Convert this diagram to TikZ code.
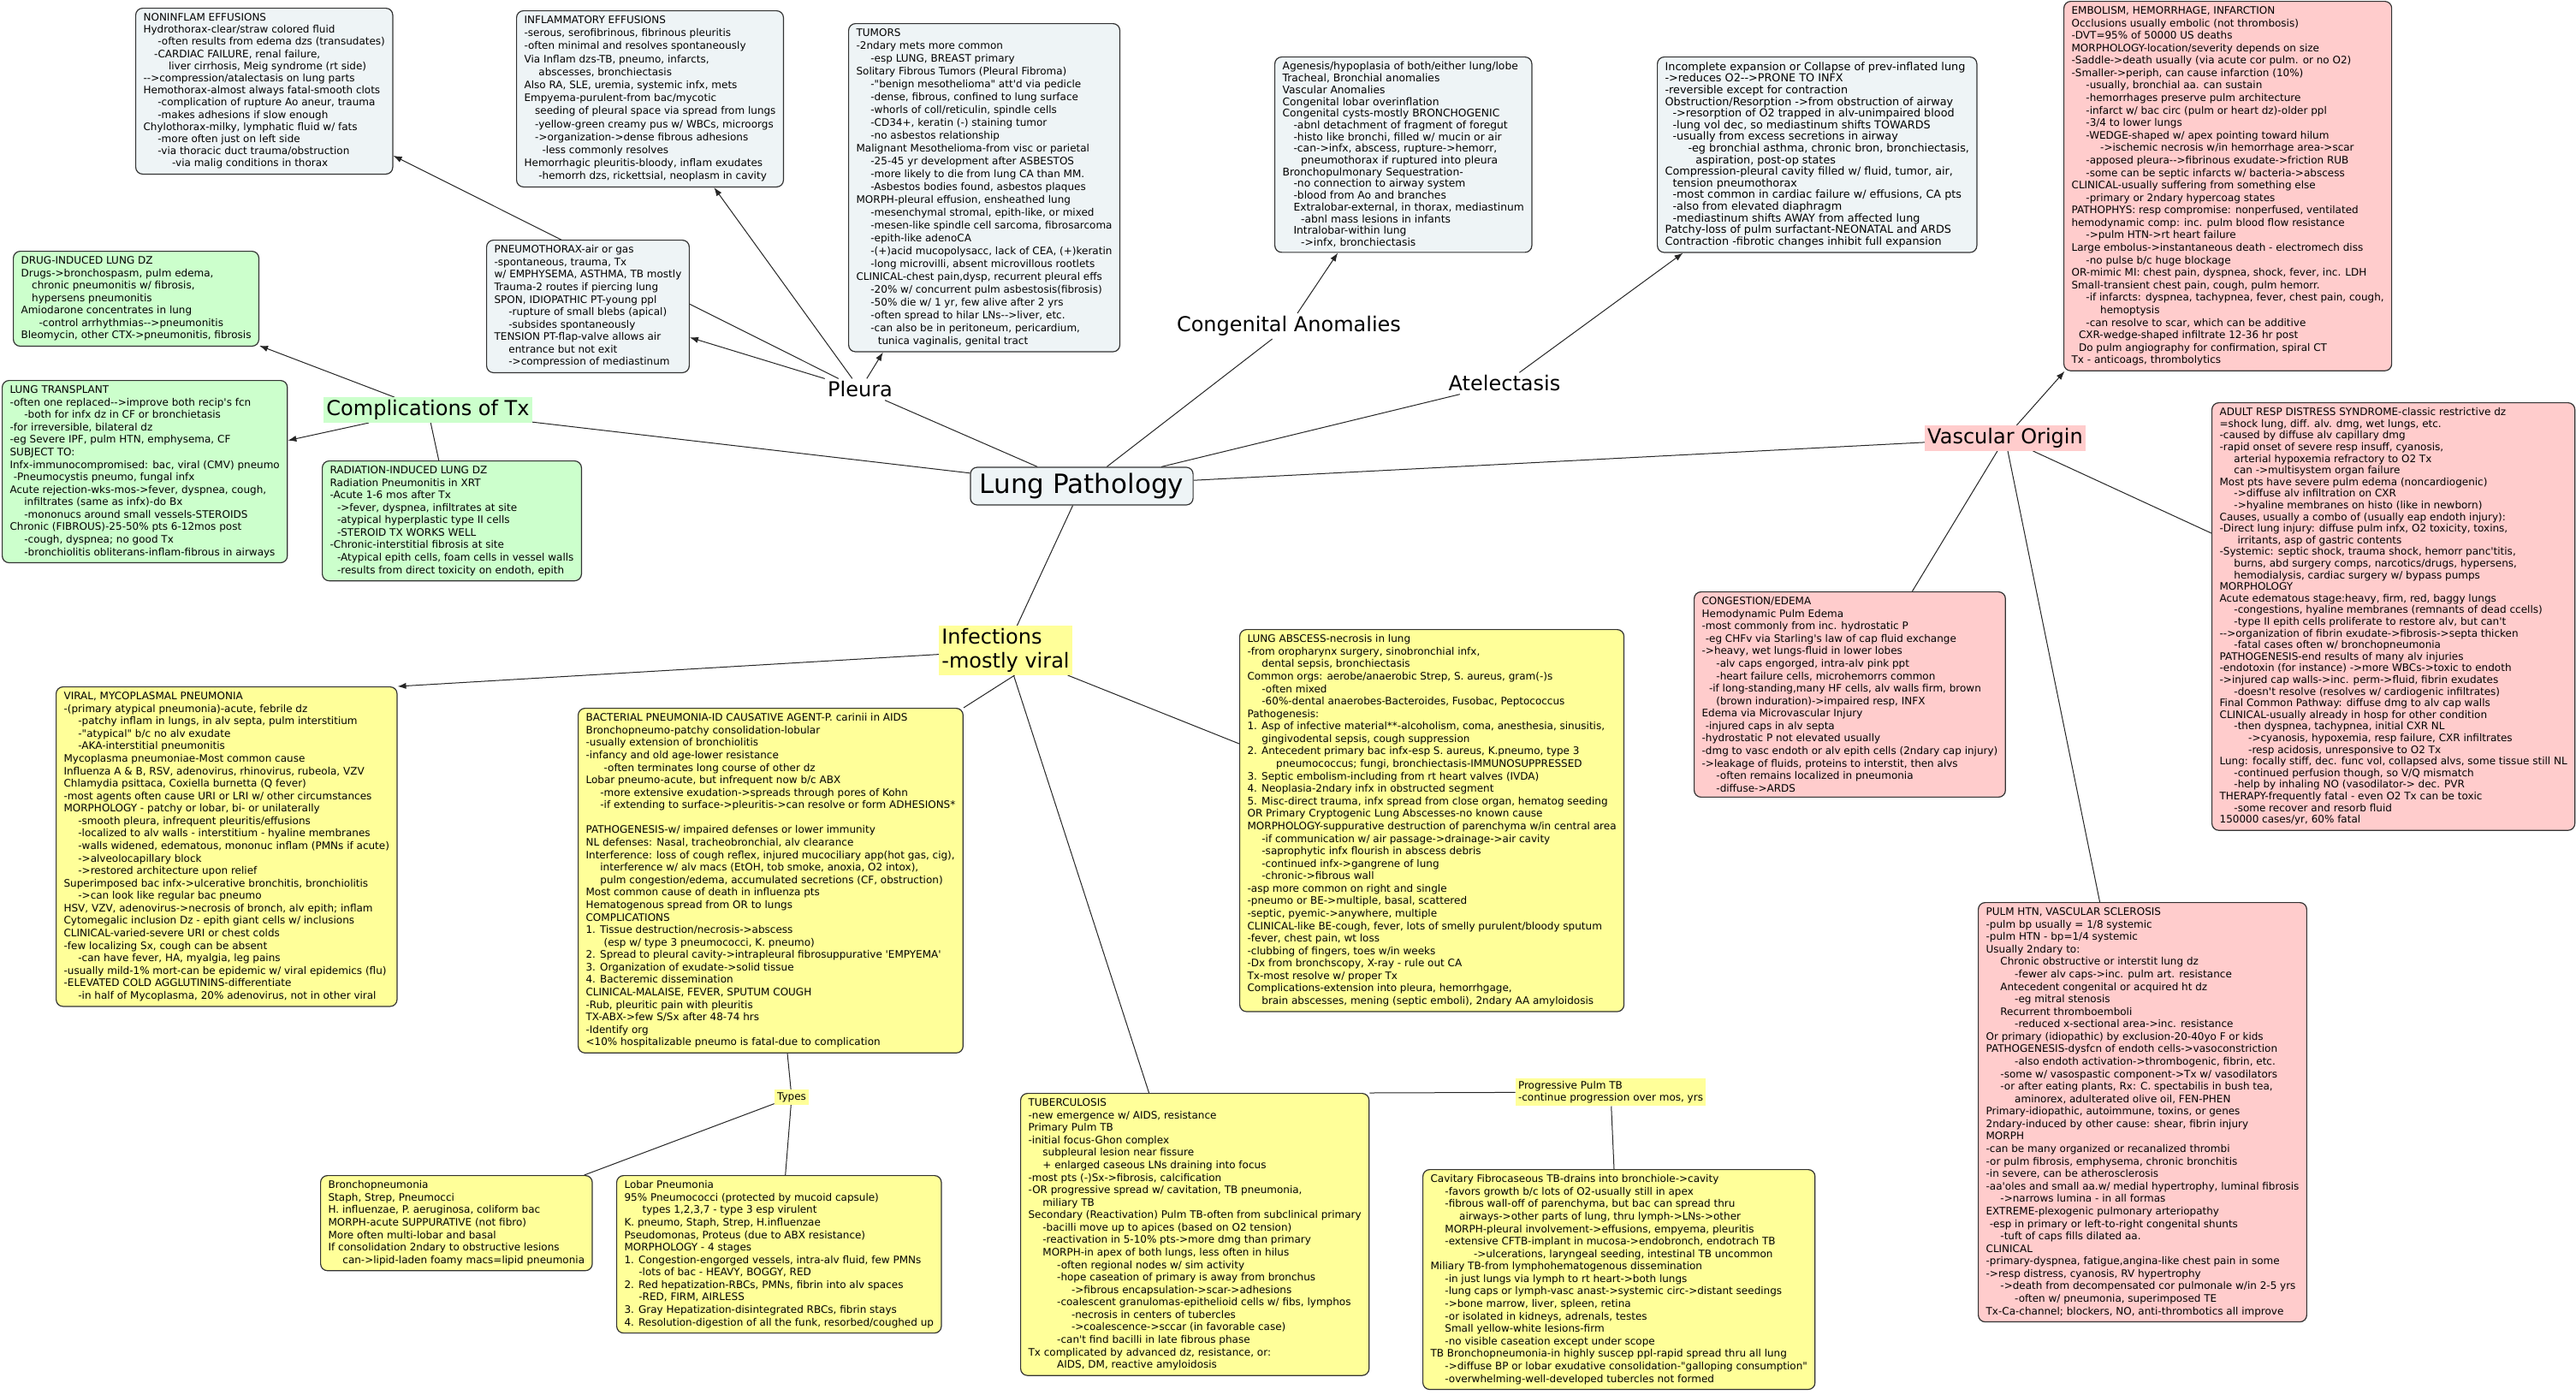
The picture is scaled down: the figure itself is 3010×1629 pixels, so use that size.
\documentclass[tikz,border=0pt]{standalone}
\usepackage{fontspec}
\newfontfamily\notefont{DejaVu Sans}
\usetikzlibrary{arrows.meta}
\definecolor{cgrey}{RGB}{238,244,246}
\definecolor{cgreen}{RGB}{204,255,204}
\definecolor{cyellow}{RGB}{255,255,153}
\definecolor{cpink}{RGB}{255,204,204}
\pgfdeclarelayer{background}
\pgfsetlayers{background,main}
\newcommand{\gap}[1]{\hspace*{#1\dimexpr 0.35em\relax}}
\tikzset{
  notebox/.style={draw=black!80, line width=0.6pt, rounded corners=4pt, align=left,
    anchor=north west, inner xsep=4.5pt, inner ysep=3pt,
    font=\notefont\fontsize{6}{7.29}\selectfont},
  topic/.style={inner sep=1.5pt, font=\notefont\fontsize{12}{14}\selectfont},
  root/.style={draw=black!80, line width=0.6pt, rounded corners=4pt, fill=cgrey,
    inner xsep=5.5pt, inner ysep=3.5pt, font=\notefont\fontsize{15.5}{18}\selectfont},
  link/.style={line width=0.5pt, black!85},
  arrowlink/.style={link, -{Latex[length=5pt,width=3.6pt]}},
}

\begin{document}
\begin{tikzpicture}[x=0.5pt, y=-0.5pt]
  \begin{pgfonlayer}{background}
    \fill [white] (0, 0) rectangle (3010, 1629);
  \end{pgfonlayer}
  \useasboundingbox (0, 0) rectangle (3010, 1629);

  % centre and topics
  \node [root] (lung) at (1264, 568) {Lung Pathology};
  \node [topic, fill=cgreen] (comp) at (500, 479) {Complications of Tx};
  \node [topic] (pleura) at (1005, 455) {Pleura};
  \node [topic] (congen) at (1506, 381) {Congenital Anomalies};
  \node [topic] (atel) at (1758, 448) {Atelectasis};
  \node [topic, fill=cpink] (vasc) at (2343, 512) {Vascular Origin};
  \node [topic, fill=cyellow, align=left] (infect) at (1175, 760) {Infections\\-mostly viral};

  % pleura
  \node [notebox, fill=cgrey, font=\notefont\fontsize{6}{7.1}\selectfont] (noninflam) at (158, 9) {NONINFLAM EFFUSIONS\\
Hydrothorax-clear/straw colored fluid\\
\gap{4}-often results from edema dzs (transudates)\\
\gap{3}-CARDIAC FAILURE, renal failure,\\
\gap{7}liver cirrhosis, Meig syndrome (rt side)\\
-->compression/atalectasis on lung parts\\
Hemothorax-almost always fatal-smooth clots\\
\gap{4}-complication of rupture Ao aneur, trauma\\
\gap{4}-makes adhesions if slow enough\\
Chylothorax-milky, lymphatic fluid w/ fats\\
\gap{4}-more often just on left side\\
\gap{4}-via thoracic duct trauma/obstruction\\
\gap{8}-via malig conditions in thorax};

  \node [notebox, fill=cgrey, font=\notefont\fontsize{6}{7.6}\selectfont] (inflam) at (603, 12) {INFLAMMATORY EFFUSIONS\\
-serous, serofibrinous, fibrinous pleuritis\\
-often minimal and resolves spontaneously\\
Via Inflam dzs-TB, pneumo, infarcts,\\
\gap{4}abscesses, bronchiectasis\\
Also RA, SLE, uremia, systemic infx, mets\\
Empyema-purulent-from bac/mycotic\\
\gap{3}seeding of pleural space via spread from lungs\\
\gap{3}-yellow-green creamy pus w/ WBCs, microorgs\\
\gap{3}->organization->dense fibrous adhesions\\
\gap{5}-less commonly resolves\\
Hemorrhagic pleuritis-bloody, inflam exudates\\
\gap{4}-hemorrh dzs, rickettsial, neoplasm in cavity};

  \node [notebox, fill=cgrey, font=\notefont\fontsize{6}{7.5}\selectfont] (tumors) at (991, 27) {TUMORS\\
-2ndary mets more common\\
\gap{4}-esp LUNG, BREAST primary\\
Solitary Fibrous Tumors (Pleural Fibroma)\\
\gap{4}-"benign mesothelioma" att'd via pedicle\\
\gap{4}-dense, fibrous, confined to lung surface\\
\gap{4}-whorls of coll/reticulin, spindle cells\\
\gap{4}-CD34+, keratin (-) staining tumor\\
\gap{4}-no asbestos relationship\\
Malignant Mesothelioma-from visc or parietal\\
\gap{4}-25-45 yr development after ASBESTOS\\
\gap{4}-more likely to die from lung CA than MM.\\
\gap{4}-Asbestos bodies found, asbestos plaques\\
MORPH-pleural effusion, ensheathed lung\\
\gap{4}-mesenchymal stromal, epith-like, or mixed\\
\gap{4}-mesen-like spindle cell sarcoma, fibrosarcoma\\
\gap{4}-epith-like adenoCA\\
\gap{4}-(+)acid mucopolysacc, lack of CEA, (+)keratin\\
\gap{4}-long microvilli, absent microvillous rootlets\\
CLINICAL-chest pain,dysp, recurrent pleural effs\\
\gap{4}-20\% w/ concurrent pulm asbestosis(fibrosis)\\
\gap{4}-50\% die w/ 1 yr, few alive after 2 yrs\\
\gap{4}-often spread to hilar LNs-->liver, etc.\\
\gap{4}-can also be in peritoneum, pericardium,\\
\gap{6}tunica vaginalis, genital tract};

  \node [notebox, fill=cgrey] (pneumo) at (568, 280) {PNEUMOTHORAX-air or gas\\
-spontaneous, trauma, Tx\\
w/ EMPHYSEMA, ASTHMA, TB mostly\\
Trauma-2 routes if piercing lung\\
SPON, IDIOPATHIC PT-young ppl\\
\gap{4}-rupture of small blebs (apical)\\
\gap{4}-subsides spontaneously\\
TENSION PT-flap-valve allows air\\
\gap{4}entrance but not exit\\
\gap{4}->compression of mediastinum};

  % complications of treatment
  \node [notebox, fill=cgreen] (drug) at (15, 293) {DRUG-INDUCED LUNG DZ\\
Drugs->bronchospasm, pulm edema,\\
\gap{3}chronic pneumonitis w/ fibrosis,\\
\gap{3}hypersens pneumonitis\\
Amiodarone concentrates in lung\\
\gap{5}-control arrhythmias-->pneumonitis\\
Bleomycin, other CTX->pneumonitis, fibrosis};

  \node [notebox, fill=cgreen] (transplant) at (2, 444) {LUNG TRANSPLANT\\
-often one replaced-->improve both recip's fcn\\
\gap{4}-both for infx dz in CF or bronchietasis\\
-for irreversible, bilateral dz\\
-eg Severe IPF, pulm HTN, emphysema, CF\\
SUBJECT TO:\\
Infx-immunocompromised: bac, viral (CMV) pneumo\\
\gap{1}-Pneumocystis pneumo, fungal infx\\
Acute rejection-wks-mos->fever, dyspnea, cough,\\
\gap{4}infiltrates (same as infx)-do Bx\\
\gap{4}-mononucs around small vessels-STEROIDS\\
Chronic (FIBROUS)-25-50\% pts 6-12mos post\\
\gap{4}-cough, dyspnea; no good Tx\\
\gap{4}-bronchiolitis obliterans-inflam-fibrous in airways};

  \node [notebox, fill=cgreen] (radiation) at (376, 538) {RADIATION-INDUCED LUNG DZ\\
Radiation Pneumonitis in XRT\\
-Acute 1-6 mos after Tx\\
\gap{2}->fever, dyspnea, infiltrates at site\\
\gap{2}-atypical hyperplastic type II cells\\
\gap{2}-STEROID TX WORKS WELL\\
-Chronic-interstitial fibrosis at site\\
\gap{2}-Atypical epith cells, foam cells in vessel walls\\
\gap{2}-results from direct toxicity on endoth, epith};

  % congenital and atelectasis
  \node [notebox, fill=cgrey, font=\notefont\fontsize{6.15}{6.85}\selectfont] (congbox) at (1489, 66) {Agenesis/hypoplasia of both/either lung/lobe\\
Tracheal, Bronchial anomalies\\
Vascular Anomalies\\
Congenital lobar overinflation\\
Congenital cysts-mostly BRONCHOGENIC\\
\gap{3}-abnl detachment of fragment of foregut\\
\gap{3}-histo like bronchi, filled w/ mucin or air\\
\gap{3}-can->infx, abscess, rupture->hemorr,\\
\gap{5}pneumothorax if ruptured into pleura\\
Bronchopulmonary Sequestration-\\
\gap{3}-no connection to airway system\\
\gap{3}-blood from Ao and branches\\
\gap{3}Extralobar-external, in thorax, mediastinum\\
\gap{5}-abnl mass lesions in infants\\
\gap{3}Intralobar-within lung\\
\gap{5}->infx, bronchiectasis};

  \node [notebox, fill=cgrey, font=\notefont\fontsize{6.4}{6.8}\selectfont] (atelbox) at (1936, 66) {Incomplete expansion or Collapse of prev-inflated lung\\
->reduces O2-->PRONE TO INFX\\
-reversible except for contraction\\
Obstruction/Resorption ->from obstruction of airway\\
\gap{2}->resorption of O2 trapped in alv-unimpaired blood\\
\gap{2}-lung vol dec, so mediastinum shifts TOWARDS\\
\gap{2}-usually from excess secretions in airway\\
\gap{6}-eg bronchial asthma, chronic bron, bronchiectasis,\\
\gap{8}aspiration, post-op states\\
Compression-pleural cavity filled w/ fluid, tumor, air,\\
\gap{2}tension pneumothorax\\
\gap{2}-most common in cardiac failure w/ effusions, CA pts\\
\gap{2}-also from elevated diaphragm\\
\gap{2}-mediastinum shifts AWAY from affected lung\\
Patchy-loss of pulm surfactant-NEONATAL and ARDS\\
Contraction -fibrotic changes inhibit full expansion};

  % vascular
  \node [notebox, fill=cpink] (embolism) at (2411, 1) {EMBOLISM, HEMORRHAGE, INFARCTION\\
Occlusions usually embolic (not thrombosis)\\
-DVT=95\% of 50000 US deaths\\
MORPHOLOGY-location/severity depends on size\\
-Saddle->death usually (via acute cor pulm. or no O2)\\
-Smaller->periph, can cause infarction (10\%)\\
\gap{4}-usually, bronchial aa. can sustain\\
\gap{4}-hemorrhages preserve pulm architecture\\
\gap{4}-infarct w/ bac circ (pulm or heart dz)-older ppl\\
\gap{4}-3/4 to lower lungs\\
\gap{4}-WEDGE-shaped w/ apex pointing toward hilum\\
\gap{8}->ischemic necrosis w/in hemorrhage area->scar\\
\gap{4}-apposed pleura-->fibrinous exudate->friction RUB\\
\gap{4}-some can be septic infarcts w/ bacteria->abscess\\
CLINICAL-usually suffering from something else\\
\gap{4}-primary or 2ndary hypercoag states\\
PATHOPHYS: resp compromise: nonperfused, ventilated\\
hemodynamic comp: inc. pulm blood flow resistance\\
\gap{4}->pulm HTN->rt heart failure\\
Large embolus->instantaneous death - electromech diss\\
\gap{4}-no pulse b/c huge blockage\\
OR-mimic MI: chest pain, dyspnea, shock, fever, inc. LDH\\
Small-transient chest pain, cough, pulm hemorr.\\
\gap{4}-if infarcts: dyspnea, tachypnea, fever, chest pain, cough,\\
\gap{8}hemoptysis\\
\gap{4}-can resolve to scar, which can be additive\\
\gap{2}CXR-wedge-shaped infiltrate 12-36 hr post\\
\gap{2}Do pulm angiography for confirmation, spiral CT\\
Tx - anticoags, thrombolytics};

  \node [notebox, fill=cpink, font=\notefont\fontsize{6}{6.8}\selectfont] (ards) at (2584, 470) {ADULT RESP DISTRESS SYNDROME-classic restrictive dz\\
=shock lung, diff. alv. dmg, wet lungs, etc.\\
-caused by diffuse alv capillary dmg\\
-rapid onset of severe resp insuff, cyanosis,\\
\gap{4}arterial hypoxemia refractory to O2 Tx\\
\gap{4}can ->multisystem organ failure\\
Most pts have severe pulm edema (noncardiogenic)\\
\gap{4}->diffuse alv infiltration on CXR\\
\gap{4}->hyaline membranes on histo (like in newborn)\\
Causes, usually a combo of (usually eap endoth injury):\\
-Direct lung injury: diffuse pulm infx, O2 toxicity, toxins,\\
\gap{5}irritants, asp of gastric contents\\
-Systemic: septic shock, trauma shock, hemorr panc'titis,\\
\gap{4}burns, abd surgery comps, narcotics/drugs, hypersens,\\
\gap{4}hemodialysis, cardiac surgery w/ bypass pumps\\
MORPHOLOGY\\
Acute edematous stage:heavy, firm, red, baggy lungs\\
\gap{4}-congestions, hyaline membranes (remnants of dead ccells)\\
\gap{4}-type II epith cells proliferate to restore alv, but can't\\
-->organization of fibrin exudate->fibrosis->septa thicken\\
\gap{4}-fatal cases often w/ bronchopneumonia\\
PATHOGENESIS-end results of many alv injuries\\
-endotoxin (for instance) ->more WBCs->toxic to endoth\\
->injured cap walls->inc. perm->fluid, fibrin exudates\\
\gap{4}-doesn't resolve (resolves w/ cardiogenic infiltrates)\\
Final Common Pathway: diffuse dmg to alv cap walls\\
CLINICAL-usually already in hosp for other condition\\
\gap{4}-then dyspnea, tachypnea, initial CXR NL\\
\gap{8}->cyanosis, hypoxemia, resp failure, CXR infiltrates\\
\gap{8}-resp acidosis, unresponsive to O2 Tx\\
Lung: focally stiff, dec. func vol, collapsed alvs, some tissue still NL\\
\gap{4}-continued perfusion though, so V/Q mismatch\\
\gap{4}-help by inhaling NO (vasodilator-> dec. PVR\\
THERAPY-frequently fatal - even O2 Tx can be toxic\\
\gap{4}-some recover and resorb fluid\\
150000 cases/yr, 60\% fatal};

  \node [notebox, fill=cpink] (congestion) at (1979, 691) {CONGESTION/EDEMA\\
Hemodynamic Pulm Edema\\
-most commonly from inc. hydrostatic P\\
\gap{1}-eg CHFv via Starling's law of cap fluid exchange\\
->heavy, wet lungs-fluid in lower lobes\\
\gap{4}-alv caps engorged, intra-alv pink ppt\\
\gap{4}-heart failure cells, microhemorrs common\\
\gap{2}-if long-standing,many HF cells, alv walls firm, brown\\
\gap{4}(brown induration)->impaired resp, INFX\\
Edema via Microvascular Injury\\
\gap{1}-injured caps in alv septa\\
-hydrostatic P not elevated usually\\
-dmg to vasc endoth or alv epith cells (2ndary cap injury)\\
->leakage of fluids, proteins to interstit, then alvs\\
\gap{4}-often remains localized in pneumonia\\
\gap{4}-diffuse->ARDS};

  \node [notebox, fill=cpink] (pulmhtn) at (2311, 1054) {PULM HTN, VASCULAR SCLEROSIS\\
-pulm bp usually = 1/8 systemic\\
-pulm HTN - bp=1/4 systemic\\
Usually 2ndary to:\\
\gap{4}Chronic obstructive or interstit lung dz\\
\gap{8}-fewer alv caps->inc. pulm art. resistance\\
\gap{4}Antecedent congenital or acquired ht dz\\
\gap{8}-eg mitral stenosis\\
\gap{4}Recurrent thromboemboli\\
\gap{8}-reduced x-sectional area->inc. resistance\\
Or primary (idiopathic) by exclusion-20-40yo F or kids\\
PATHOGENESIS-dysfcn of endoth cells->vasoconstriction\\
\gap{8}-also endoth activation->thrombogenic, fibrin, etc.\\
\gap{4}-some w/ vasospastic component->Tx w/ vasodilators\\
\gap{4}-or after eating plants, Rx: C. spectabilis in bush tea,\\
\gap{8}aminorex, adulterated olive oil, FEN-PHEN\\
Primary-idiopathic, autoimmune, toxins, or genes\\
2ndary-induced by other cause: shear, fibrin injury\\
MORPH\\
-can be many organized or recanalized thrombi\\
-or pulm fibrosis, emphysema, chronic bronchitis\\
-in severe, can be atherosclerosis\\
-aa'oles and small aa.w/ medial hypertrophy, luminal fibrosis\\
\gap{4}->narrows lumina - in all formas\\
EXTREME-plexogenic pulmonary arteriopathy\\
\gap{1}-esp in primary or left-to-right congenital shunts\\
\gap{4}-tuft of caps fills dilated aa.\\
CLINICAL\\
-primary-dyspnea, fatigue,angina-like chest pain in some\\
->resp distress, cyanosis, RV hypertrophy\\
\gap{4}->death from decompensated cor pulmonale w/in 2-5 yrs\\
\gap{8}-often w/ pneumonia, superimposed TE\\
Tx-Ca-channel; blockers, NO, anti-thrombotics all improve};

  % infections
  \node [notebox, fill=cyellow] (viral) at (65, 802) {VIRAL, MYCOPLASMAL PNEUMONIA\\
-(primary atypical pneumonia)-acute, febrile dz\\
\gap{4}-patchy inflam in lungs, in alv septa, pulm interstitium\\
\gap{4}-"atypical" b/c no alv exudate\\
\gap{4}-AKA-interstitial pneumonitis\\
Mycoplasma pneumoniae-Most common cause\\
Influenza A \& B, RSV, adenovirus, rhinovirus, rubeola, VZV\\
Chlamydia psittaca, Coxiella burnetta (Q fever)\\
-most agents often cause URI or LRI w/ other circumstances\\
MORPHOLOGY - patchy or lobar, bi- or unilaterally\\
\gap{4}-smooth pleura, infrequent pleuritis/effusions\\
\gap{4}-localized to alv walls - interstitium - hyaline membranes\\
\gap{4}-walls widened, edematous, mononuc inflam (PMNs if acute)\\
\gap{4}->alveolocapillary block\\
\gap{4}->restored architecture upon relief\\
Superimposed bac infx->ulcerative bronchitis, bronchiolitis\\
\gap{4}->can look like regular bac pneumo\\
HSV, VZV, adenovirus->necrosis of bronch, alv epith; inflam\\
Cytomegalic inclusion Dz - epith giant cells w/ inclusions\\
CLINICAL-varied-severe URI or chest colds\\
-few localizing Sx, cough can be absent\\
\gap{4}-can have fever, HA, myalgia, leg pains\\
-usually mild-1\% mort-can be epidemic w/ viral epidemics (flu)\\
-ELEVATED COLD AGGLUTININS-differentiate\\
\gap{4}-in half of Mycoplasma, 20\% adenovirus, not in other viral};

  \node [notebox, fill=cyellow] (bact) at (675, 827) {BACTERIAL PNEUMONIA-ID CAUSATIVE AGENT-P. carinii in AIDS\\
Bronchopneumo-patchy consolidation-lobular\\
-usually extension of bronchiolitis\\
-infancy and old age-lower resistance\\
\gap{5}-often terminates long course of other dz\\
Lobar pneumo-acute, but infrequent now b/c ABX\\
\gap{4}-more extensive exudation->spreads through pores of Kohn\\
\gap{4}-if extending to surface->pleuritis->can resolve or form ADHESIONS*\\[7.29pt]
PATHOGENESIS-w/ impaired defenses or lower immunity\\
NL defenses: Nasal, tracheobronchial, alv clearance\\
Interference: loss of cough reflex, injured mucociliary app(hot gas, cig),\\
\gap{4}interference w/ alv macs (EtOH, tob smoke, anoxia, O2 intox),\\
\gap{4}pulm congestion/edema, accumulated secretions (CF, obstruction)\\
Most common cause of death in influenza pts\\
Hematogenous spread from OR to lungs\\
COMPLICATIONS\\
1. Tissue destruction/necrosis->abscess\\
\gap{5}(esp w/ type 3 pneumococci, K. pneumo)\\
2. Spread to pleural cavity->intrapleural fibrosuppurative 'EMPYEMA'\\
3. Organization of exudate->solid tissue\\
4. Bacteremic dissemination\\
CLINICAL-MALAISE, FEVER, SPUTUM COUGH\\
-Rub, pleuritic pain with pleuritis\\
TX-ABX->few S/Sx after 48-74 hrs\\
-Identify org\\
<10\% hospitalizable pneumo is fatal-due to complication};

  \node [notebox, fill=cyellow] (abscess) at (1448, 735) {LUNG ABSCESS-necrosis in lung\\
-from oropharynx surgery, sinobronchial infx,\\
\gap{4}dental sepsis, bronchiectasis\\
Common orgs: aerobe/anaerobic Strep, S. aureus, gram(-)s\\
\gap{4}-often mixed\\
\gap{4}-60\%-dental anaerobes-Bacteroides, Fusobac, Peptococcus\\
Pathogenesis:\\
1. Asp of infective material**-alcoholism, coma, anesthesia, sinusitis,\\
\gap{4}gingivodental sepsis, cough suppression\\
2. Antecedent primary bac infx-esp S. aureus, K.pneumo, type 3\\
\gap{8}pneumococcus; fungi, bronchiectasis-IMMUNOSUPPRESSED\\
3. Septic embolism-including from rt heart valves (IVDA)\\
4. Neoplasia-2ndary infx in obstructed segment\\
5. Misc-direct trauma, infx spread from close organ, hematog seeding\\
OR Primary Cryptogenic Lung Abscesses-no known cause\\
MORPHOLOGY-suppurative destruction of parenchyma w/in central area\\
\gap{4}-if communication w/ air passage->drainage->air cavity\\
\gap{4}-saprophytic infx flourish in abscess debris\\
\gap{4}-continued infx->gangrene of lung\\
\gap{4}-chronic->fibrous wall\\
-asp more common on right and single\\
-pneumo or BE->multiple, basal, scattered\\
-septic, pyemic->anywhere, multiple\\
CLINICAL-like BE-cough, fever, lots of smelly purulent/bloody sputum\\
-fever, chest pain, wt loss\\
-clubbing of fingers, toes w/in weeks\\
-Dx from bronchscopy, X-ray - rule out CA\\
Tx-most resolve w/ proper Tx\\
Complications-extension into pleura, hemorrhgage,\\
\gap{4}brain abscesses, mening (septic emboli), 2ndary AA amyloidosis};

  \node [topic, fill=cyellow, font=\notefont\fontsize{6}{7.29}\selectfont] (types) at (925, 1282) {Types};

  \node [notebox, fill=cyellow] (broncho) at (374, 1373) {Bronchopneumonia\\
Staph, Strep, Pneumocci\\
H. influenzae, P. aeruginosa, coliform bac\\
MORPH-acute SUPPURATIVE (not fibro)\\
More often multi-lobar and basal\\
If consolidation 2ndary to obstructive lesions\\
\gap{4}can->lipid-laden foamy macs=lipid pneumonia};

  \node [notebox, fill=cyellow] (lobar) at (720, 1373) {Lobar Pneumonia\\
95\% Pneumococci (protected by mucoid capsule)\\
\gap{5}types 1,2,3,7 - type 3 esp virulent\\
K. pneumo, Staph, Strep, H.influenzae\\
Pseudomonas, Proteus (due to ABX resistance)\\
MORPHOLOGY - 4 stages\\
1. Congestion-engorged vessels, intra-alv fluid, few PMNs\\
\gap{4}-lots of bac - HEAVY, BOGGY, RED\\
2. Red hepatization-RBCs, PMNs, fibrin into alv spaces\\
\gap{4}-RED, FIRM, AIRLESS\\
3. Gray Hepatization-disintegrated RBCs, fibrin stays\\
4. Resolution-digestion of all the funk, resorbed/coughed up};

  \node [notebox, fill=cyellow] (tb) at (1192, 1277) {TUBERCULOSIS\\
-new emergence w/ AIDS, resistance\\
Primary Pulm TB\\
-initial focus-Ghon complex\\
\gap{4}subpleural lesion near fissure\\
\gap{4}+ enlarged caseous LNs draining into focus\\
-most pts (-)Sx->fibrosis, calcification\\
-OR progressive spread w/ cavitation, TB pneumonia,\\
\gap{4}miliary TB\\
Secondary (Reactivation) Pulm TB-often from subclinical primary\\
\gap{4}-bacilli move up to apices (based on O2 tension)\\
\gap{4}-reactivation in 5-10\% pts->more dmg than primary\\
\gap{4}MORPH-in apex of both lungs, less often in hilus\\
\gap{8}-often regional nodes w/ sim activity\\
\gap{8}-hope caseation of primary is away from bronchus\\
\gap{12}->fibrous encapsulation->scar->adhesions\\
\gap{8}-coalescent granulomas-epithelioid cells w/ fibs, lymphos\\
\gap{12}-necrosis in centers of tubercles\\
\gap{12}->coalescence->sccar (in favorable case)\\
\gap{8}-can't find bacilli in late fibrous phase\\
Tx complicated by advanced dz, resistance, or:\\
\gap{8}AIDS, DM, reactive amyloidosis};

  \node [topic, fill=cyellow, align=left, font=\notefont\fontsize{6}{7.29}\selectfont] (prog) at (1882, 1276) {Progressive Pulm TB\\-continue progression over mos, yrs};

  \node [notebox, fill=cyellow] (cavitary) at (1662, 1366) {Cavitary Fibrocaseous TB-drains into bronchiole->cavity\\
\gap{4}-favors growth b/c lots of O2-usually still in apex\\
\gap{4}-fibrous wall-off of parenchyma, but bac can spread thru\\
\gap{8}airways->other parts of lung, thru lymph->LNs->other\\
\gap{4}MORPH-pleural involvement->effusions, empyema, pleuritis\\
\gap{4}-extensive CFTB-implant in mucosa->endobronch, endotrach TB\\
\gap{12}->ulcerations, laryngeal seeding, intestinal TB uncommon\\
Miliary TB-from lymphohematogenous dissemination\\
\gap{4}-in just lungs via lymph to rt heart->both lungs\\
\gap{4}-lung caps or lymph-vasc anast->systemic circ->distant seedings\\
\gap{4}->bone marrow, liver, spleen, retina\\
\gap{4}-or isolated in kidneys, adrenals, testes\\
\gap{4}Small yellow-white lesions-firm\\
\gap{4}-no visible caseation except under scope\\
TB Bronchopneumonia-in highly suscep ppl-rapid spread thru all lung\\
\gap{4}->diffuse BP or lobar exudative consolidation-"galloping consumption"\\
\gap{4}-overwhelming-well-developed tubercles not formed};

  % connectors, kept under the boxes
  \begin{pgfonlayer}{background}
    \draw [link] (lung) -- (comp);
    \draw [link] (lung) -- (pleura);
    \draw [link] (lung) -- (congen);
    \draw [link] (lung) -- (atel);
    \draw [link] (lung) -- (vasc);
    \draw [link] (lung) -- (infect);

    \draw [arrowlink] (comp) -- (drug);
    \draw [arrowlink] (comp) -- (transplant);
    \draw [link] (comp) -- (radiation);

    \draw [arrowlink] (pleura) -- (noninflam);
    \draw [arrowlink] (pleura) -- (inflam);
    \draw [arrowlink] (pleura) -- (pneumo);
    \draw [arrowlink] (pleura) -- (tumors);

    \draw [arrowlink] (congen) -- (congbox);
    \draw [arrowlink] (atel) -- (atelbox);

    \draw [arrowlink] (vasc) -- (embolism);
    \draw [link] (vasc) -- (ards);
    \draw [link] (vasc) -- (congestion);
    \draw [link] (vasc) -- (pulmhtn);

    \draw [arrowlink] (infect) -- (viral.north east);
    \draw [link] (infect.-70) -- (bact.north east);
    \draw [link] (infect) -- (abscess);
    \draw [link] (infect) -- (tb);
    \draw [link] (bact) -- (types);
    \draw [link] (types) -- (broncho);
    \draw [link] (types) -- (lobar);
    \draw [link] (tb.north east) -- (prog);
    \draw [link] (prog) -- (cavitary);
  \end{pgfonlayer}
\end{tikzpicture}
\end{document}
